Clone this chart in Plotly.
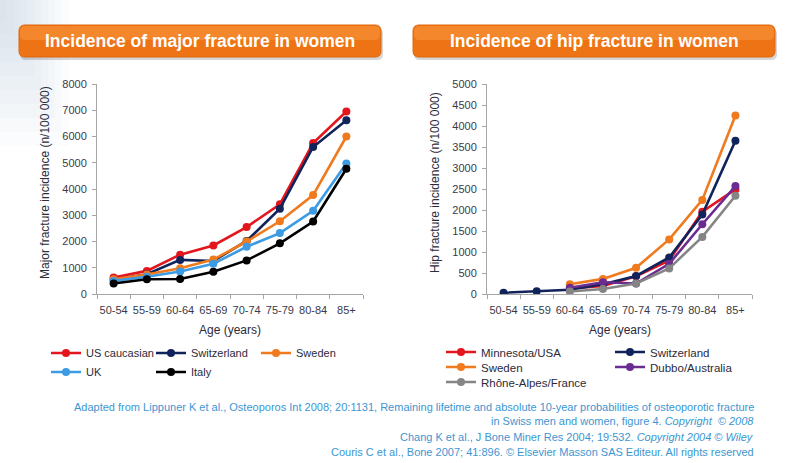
import plotly.graph_objects as go

W, H = 795, 463

ages = ["50-54", "55-59", "60-64", "65-69", "70-74", "75-79", "80-84", "85+"]

# Left chart: major fracture incidence (n/100 000)
major_us = [630, 880, 1500, 1850, 2550, 3420, 5750, 6950]
major_switzerland = [540, 750, 1300, 1260, 2020, 3250, 5600, 6620]
major_sweden = [560, 740, 980, 1310, 2000, 2770, 3770, 6000]
major_uk = [500, 660, 860, 1150, 1800, 2320, 3170, 4970]
major_italy = [400, 560, 570, 850, 1280, 1930, 2760, 4770]

# Right chart: hip fracture incidence (n/100 000)
hip_ages = ["60-64", "65-69", "70-74", "75-79", "80-84", "85+"]
hip_minnesota = [130, 190, 420, 800, 1960, 2490]
hip_switzerland_ages = ["50-54", "55-59", "60-64", "65-69", "70-74", "75-79", "80-84", "85+"]
hip_switzerland = [30, 65, 100, 230, 430, 870, 1890, 3650]
hip_sweden = [230, 360, 625, 1300, 2240, 4250]
hip_dubbo = [150, 280, 250, 720, 1660, 2570]
hip_rhone = [60, 120, 250, 610, 1360, 2340]

C_RED = "#E3161E"
C_NAVY = "#10235A"
C_ORANGE = "#F07A1E"
C_BLUE = "#3C9BE2"
C_BLACK = "#000000"
C_PURPLE = "#6B2C91"
C_GRAY = "#858585"

def px(x):
    return x / W

def py(y):
    return 1 - y / H

fig = go.Figure()

def add_line(x, y, name, color, xa, ya, legend):
    fig.add_trace(go.Scatter(
        x=x, y=y, name=name, mode="lines+markers",
        line=dict(color=color, width=2.6),
        marker=dict(color=color, size=8, symbol="circle"),
        xaxis=xa, yaxis=ya, legend=legend,
    ))

# left chart traces
add_line(ages, major_us, "US caucasian", C_RED, "x", "y", "legend")
add_line(ages, major_switzerland, "Switzerland", C_NAVY, "x", "y", "legend")
add_line(ages, major_sweden, "Sweden", C_ORANGE, "x", "y", "legend")
add_line(ages, major_uk, "UK", C_BLUE, "x", "y", "legend2")
add_line(ages, major_italy, "Italy", C_BLACK, "x", "y", "legend2")

# right chart traces
add_line(hip_ages, hip_minnesota, "Minnesota/USA", C_RED, "x2", "y2", "legend3")
add_line(hip_switzerland_ages, hip_switzerland, "Switzerland", C_NAVY, "x2", "y2", "legend3")
add_line(hip_ages, hip_sweden, "Sweden", C_ORANGE, "x2", "y2", "legend4")
add_line(hip_ages, hip_dubbo, "Dubbo/Australia", C_PURPLE, "x2", "y2", "legend4")
add_line(hip_ages, hip_rhone, "Rhône-Alpes/France", C_GRAY, "x2", "y2", "legend5")

FONT = "Liberation Sans, Arial, sans-serif"
TICK_COLOR = "#3a3a48"
AXIS_LINE = "#a6a6a6"

xaxis_common = dict(
    type="category", categoryorder="array", categoryarray=ages,
    range=[-0.5, 7.5], showgrid=False, zeroline=False,
    showline=True, linecolor=AXIS_LINE, linewidth=1,
    ticks="outside", tickson="boundaries", ticklen=4, tickcolor=AXIS_LINE,
    tickangle=0, automargin=False, ticklabelstandoff=6,
    tickfont=dict(family=FONT, size=11, color=TICK_COLOR), fixedrange=True,
)
yaxis_common = dict(
    showgrid=False, zeroline=False, showline=True, linecolor=AXIS_LINE, linewidth=1,
    ticks="outside", ticklen=4, tickcolor=AXIS_LINE, automargin=False,
    ticklabelstandoff=3,
    tickfont=dict(family=FONT, size=11, color=TICK_COLOR), fixedrange=True,
)

plot_top, plot_bottom = 84, 294

def legend_style(size):
    return dict(
        orientation="h", bgcolor="rgba(0,0,0,0)",
        font=dict(family=FONT, size=size, color="#2b2b3b"),
        xanchor="left", yanchor="middle", entrywidthmode="pixels",
        itemclick=False, itemdoubleclick=False,
    )

fig.update_layout(
    width=W, height=H,
    margin=dict(l=0, r=0, t=0, b=0, pad=0, autoexpand=False),
    paper_bgcolor="white", plot_bgcolor="rgba(0,0,0,0)",
    showlegend=True,
    xaxis=dict(domain=[px(97), px(363)], anchor="y", **xaxis_common),
    yaxis=dict(domain=[py(plot_bottom), py(plot_top)], anchor="x",
               range=[0, 8000], tickvals=list(range(0, 8001, 1000)), **yaxis_common),
    xaxis2=dict(domain=[px(487), px(752)], anchor="y2", **xaxis_common),
    yaxis2=dict(domain=[py(plot_bottom), py(plot_top)], anchor="x2",
                range=[0, 5000], tickvals=list(range(0, 5001, 500)), **yaxis_common),
    legend=dict(x=px(46), y=py(353), entrywidth=60, **legend_style(11)),
    legend2=dict(x=px(46), y=py(372), entrywidth=60, **legend_style(11)),
    legend3=dict(x=px(441), y=py(352), entrywidth=124, **legend_style(11.5)),
    legend4=dict(x=px(441), y=py(367), entrywidth=124, **legend_style(11.5)),
    legend5=dict(x=px(441), y=py(382), entrywidth=124, **legend_style(11.5)),
)

def rounded_path(x0, y0, x1, y1, r):
    rx, ry = r / W, r / H
    X0, X1 = px(x0), px(x1)
    Y0, Y1 = py(y1), py(y0)
    return (f"M{X0+rx},{Y1} L{X1-rx},{Y1} Q{X1},{Y1} {X1},{Y1-ry} "
            f"L{X1},{Y0+ry} Q{X1},{Y0} {X1-rx},{Y0} L{X0+rx},{Y0} "
            f"Q{X0},{Y0} {X0},{Y0+ry} L{X0},{Y1-ry} Q{X0},{Y1} {X0+rx},{Y1} Z")

shapes = []
# soft grey-blue wash in the slide's top-left corner
for k in range(10):
    wdt = 6 + k * 7
    hgt = 20 + k * 14
    shapes.append(dict(type="rect", xref="paper", yref="paper",
                       x0=0, x1=px(wdt), y0=py(hgt), y1=1,
                       fillcolor="rgba(170,185,205,0.045)", line=dict(width=0), layer="below"))
for (bx0, bx1) in [(19, 381), (413, 775)]:
    shapes.append(dict(type="path", xref="paper", yref="paper",
                       path=rounded_path(bx0 + 1, 28, bx1 + 2, 60, 6),
                       fillcolor="rgba(0,0,0,0.16)", line=dict(width=0), layer="above"))
    shapes.append(dict(type="path", xref="paper", yref="paper",
                       path=rounded_path(bx0, 25, bx1, 57, 6),
                       fillcolor="#EE7314", line=dict(color="#E0660C", width=1), layer="above"))
    shapes.append(dict(type="path", xref="paper", yref="paper",
                       path=rounded_path(bx0 + 1, 26, bx1 - 1, 40, 5),
                       fillcolor="rgba(255,170,90,0.35)", line=dict(width=0), layer="above"))
fig.update_layout(shapes=shapes)

annotations = [
    dict(text="<b>Incidence of major fracture in women</b>", x=px(200), y=py(41),
         font=dict(family=FONT, size=17.5, color="white")),
    dict(text="<b>Incidence of hip fracture in women</b>", x=px(594), y=py(41),
         font=dict(family=FONT, size=17.5, color="white")),
    dict(text="Major fracture incidence (n/100 000)", x=px(45), y=py(183), textangle=-90,
         font=dict(family=FONT, size=12, color="#2b2b3b")),
    dict(text="Hip fracture incidence (n/100 000)", x=px(435), y=py(183), textangle=-90,
         font=dict(family=FONT, size=12, color="#2b2b3b")),
    dict(text="Age (years)", x=px(230), y=py(330),
         font=dict(family=FONT, size=12, color="#2b2b3b")),
    dict(text="Age (years)", x=px(620), y=py(330),
         font=dict(family=FONT, size=12, color="#2b2b3b")),
]
foot_lines = [
    ("Adapted from Lippuner K et al., Osteoporos Int 2008; 20:1131, Remaining lifetime and absolute 10-year probabilities of osteoporotic fracture", 407),
    ("in Swiss men and women, figure 4. <i>Copyright  © 2008</i>", 421),
    ("Chang K et al., J Bone Miner Res 2004; 19:532. <i>Copyright 2004 © Wiley</i>", 437),
    ("Couris C et al., Bone 2007; 41:896. © Elsevier Masson SAS Editeur. All rights reserved", 452),
]
for txt, yy in foot_lines:
    annotations.append(dict(text=txt, x=px(756), y=py(yy), xanchor="right",
                            font=dict(family=FONT, size=11, color="#3C96D2")))
for a in annotations:
    a.setdefault("xref", "paper")
    a.setdefault("yref", "paper")
    a.setdefault("showarrow", False)
    a.setdefault("xanchor", "center")
    a.setdefault("yanchor", "middle")
fig.update_layout(annotations=annotations)

fig.write_html(
    "out.html",
    config={"displayModeBar": False},
    post_script="document.body.style.margin='0';document.body.style.overflow='hidden';",
)
